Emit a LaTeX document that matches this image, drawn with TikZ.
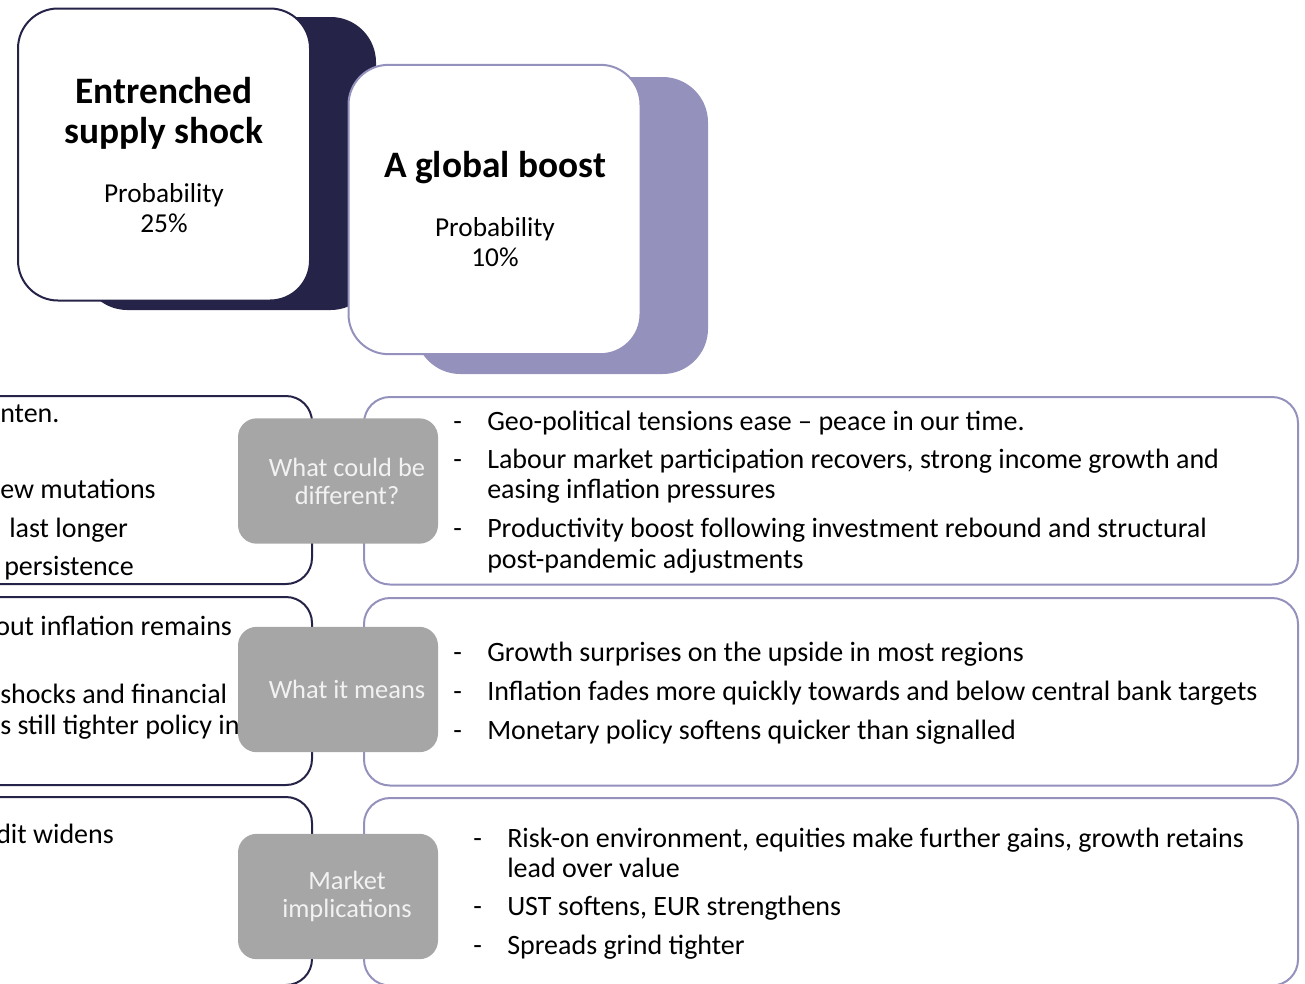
\documentclass[tikz,border=0pt]{standalone}
\usepackage{fontspec}
\setmainfont{Carlito}
\usepackage{tikz}
\usetikzlibrary{positioning}

\definecolor{navy}{HTML}{252347}
\definecolor{lavender}{HTML}{9491BD}
\definecolor{labelgray}{HTML}{A6A6A6}
\definecolor{labeltext}{HTML}{F2F2F2}

\newcommand{\dashmark}{\makebox[25.5pt][l]{-}}

\begin{document}
\begin{tikzpicture}[
                x=0.75pt, y=-0.75pt,
                card/.style={rectangle, draw, line width=1.5pt, fill=white, rounded corners=30pt, minimum width=219pt, minimum height=219pt},
                frame/.style={line width=1.5pt, rounded corners=19.5pt},
                graybox/.style={rectangle, fill=labelgray, rounded corners=14pt, minimum width=150pt, minimum height=94pt},
                graytext/.style={text=labeltext, align=center, xshift=6.75pt, font=\fontsize{19.8}{21}\selectfont},
                title/.style={align=center, inner sep=0pt, font=\fontsize{28}{30}\selectfont\bfseries},
                prob/.style={align=center, inner sep=0pt, font=\fontsize{20.5}{22.5}\selectfont},
                listtext/.style={inner sep=0pt, anchor=base west, font=\fontsize{21}{22.8}\selectfont}
            ]
                \useasboundingbox (0,0) rectangle (1305,983);
                \clip (0,0) rectangle (1305,983);

                % Scenario cards
                \fill[navy, rounded corners=34pt] (82,17) rectangle (376,310);
                \node[card, draw=navy] (supply) at (164,154.5) {};
                \node[title] (supplytitle) at (164,113) {Entrenched\\supply shock};
                \node[prob] (supplyprob) at (164,208) {Probability\\25\%};

                \fill[lavender, rounded corners=34pt] (415,77) rectangle (708,374);
                \node[card, draw=lavender, minimum height=217pt] (boost) at (494.5,209.5) {};
                \node[title] (boosttitle) at (495,168) {A global boost};
                \node[prob] (boostprob) at (495,242) {Probability\\10\%};

                % Row frames
                \foreach \top/\bot in {396/584, 597/785, 797/985} {
                    \draw[frame, navy] (-100,\top) rectangle (312,\bot);
                    \draw[frame, lavender] (364,\top+1) rectangle (1298,\bot+0.5);
                }

                % Left column (cut off)
                \node[listtext] (left1) at (0,422) {nten.};
                \node[listtext] (left2) at (0,498) {ew mutations};
                \node[listtext] (left3) at (9,537) {last longer};
                \node[listtext] (left4) at (4,575) {persistence};
                \node[listtext] (left5) at (-5,635) {out inflation remains};
                \node[listtext] (left6) at (0,703) {shocks and financial};
                \node[listtext] (left7) at (0,734) {s still tighter policy in};
                \node[listtext] (left8) at (-4,843) {dit widens};

                % Labels
                \node[graybox, label={[graytext]center:What could be\\different?}] (diff) at (338,481) {};
                \node[graybox, label={[graytext]center:What it means}] (means) at (338,689.5) {};
                \node[graybox, label={[graytext]center:Market\\implications}] (market) at (338,896.5) {};

                % Right column
                \node[listtext] (difflist) at (453,430) {\begin{tabular}[t]{@{}l@{}l@{}}
                    \dashmark & Geo-political tensions ease -- peace in our time.\\[6pt]
                    \dashmark & Labour market participation recovers, strong income growth and\\
                              & easing inflation pressures\\[6.5pt]
                    \dashmark & Productivity boost following investment rebound and structural\\
                              & post-pandemic adjustments
                \end{tabular}};
                \node[listtext] (meanslist) at (453,661) {\begin{tabular}[t]{@{}l@{}l@{}}
                    \dashmark & Growth surprises on the upside in most regions\\[6.5pt]
                    \dashmark & Inflation fades more quickly towards and below central bank targets\\[6.5pt]
                    \dashmark & Monetary policy softens quicker than signalled
                \end{tabular}};
                \node[listtext] (marketlist) at (473,847) {\begin{tabular}[t]{@{}l@{}l@{}}
                    \dashmark & Risk-on environment, equities make further gains, growth retains\\
                              & lead over value\\[6pt]
                    \dashmark & UST softens, EUR strengthens\\[6pt]
                    \dashmark & Spreads grind tighter
                \end{tabular}};
            \end{tikzpicture}
\end{document}
